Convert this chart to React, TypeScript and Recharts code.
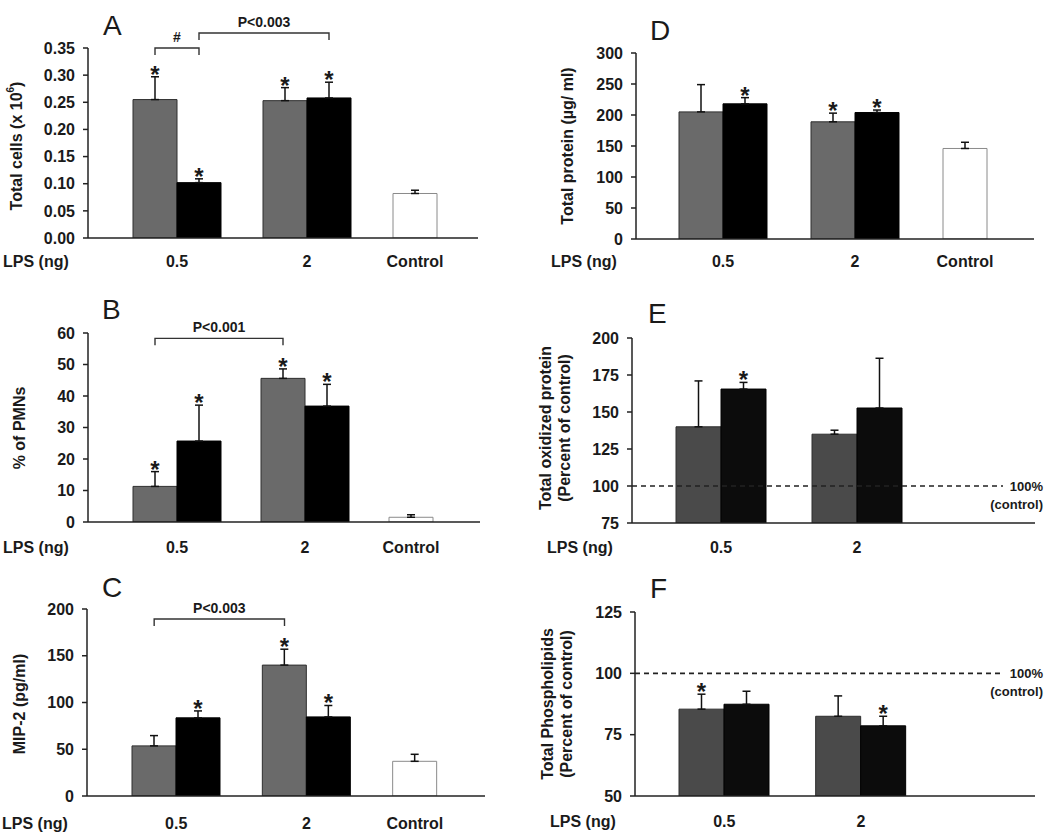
import React from 'react';
import { ComposedChart, Bar, XAxis, YAxis, ErrorBar, Cell, LabelList, ReferenceLine } from 'recharts';

const FONT = '"Liberation Sans", Arial, Helvetica, sans-serif';
const INK = '#1a1a1a';

const doses = ['0.5', '2'];

// A - total cells (x 10^6)
const cellsGray = [0.255, 0.253];
const cellsGrayErr = [0.042, 0.024];
const cellsBlack = [0.102, 0.258];
const cellsBlackErr = [0.007, 0.029];
const cellsControl = [0.082, 0.006];
const cellsGrayStar = [true, true];
const cellsBlackStar = [true, true];
const cellsTicks = [0, 0.05, 0.1, 0.15, 0.2, 0.25, 0.3, 0.35];

// B - % of PMNs
const pmnGray = [11.3, 45.6];
const pmnGrayErr = [4.7, 3.0];
const pmnBlack = [25.7, 36.8];
const pmnBlackErr = [11.4, 6.9];
const pmnControl = [1.5, 0.8];
const pmnGrayStar = [true, true];
const pmnBlackStar = [true, true];
const pmnTicks = [0, 10, 20, 30, 40, 50, 60];

// C - MIP-2
const mipGray = [53.6, 140];
const mipGrayErr = [11, 17];
const mipBlack = [83.6, 84.6];
const mipBlackErr = [7.4, 12.2];
const mipControl = [37.1, 7.5];
const mipGrayStar = [false, true];
const mipBlackStar = [true, true];
const mipTicks = [0, 50, 100, 150, 200];

// D - total protein
const protGray = [205, 189];
const protGrayErr = [44, 14];
const protBlack = [218, 204];
const protBlackErr = [10, 4];
const protControl = [146, 10];
const protGrayStar = [false, true];
const protBlackStar = [true, true];
const protTicks = [0, 50, 100, 150, 200, 250, 300];

// E - total oxidized protein (% of control)
const oxGray = [140, 135];
const oxGrayErr = [31, 2.7];
const oxBlack = [165.5, 152.7];
const oxBlackErr = [4.5, 33.6];
const oxGrayStar = [false, false];
const oxBlackStar = [true, false];
const oxTicks = [75, 100, 125, 150, 175, 200];

// F - total phospholipids (% of control)
const plGray = [85.4, 82.5];
const plGrayErr = [6.1, 8.3];
const plBlack = [87.4, 78.6];
const plBlackErr = [5.3, 3.9];
const plGrayStar = [true, false];
const plBlackStar = [false, true];
const plTicks = [50, 75, 100, 125];

type Row = {
  dose: string;
  left: number | null;
  leftErr: number[] | null;
  right: number | null;
  rightErr: number[] | null;
  leftStar: string;
  rightStar: string;
  control: boolean;
};

function buildRows(
  gray: number[], grayErr: number[], black: number[], blackErr: number[],
  grayStar: boolean[], blackStar: boolean[], control?: number[],
): Row[] {
  const rows: Row[] = doses.map((dose, i) => ({
    dose,
    left: gray[i],
    leftErr: [0, grayErr[i]],
    right: black[i],
    rightErr: [0, blackErr[i]],
    leftStar: grayStar[i] ? '*' : '',
    rightStar: blackStar[i] ? '*' : '',
    control: false,
  }));
  rows.push({
    dose: control ? 'Control' : '',
    left: control ? control[0] : null,
    leftErr: control ? [0, control[1]] : null,
    right: null,
    rightErr: null,
    leftStar: '',
    rightStar: '',
    control: true,
  });
  return rows;
}

type Bracket = { from: string; fromSide: 'L' | 'R'; to: string; toSide: 'L' | 'R'; y: number; label: string };

type PanelCfg = {
  letter: string;
  title: string[];
  left: number; top: number; width: number; height: number;
  axisX: number; plotTop: number; plotBottom: number; axisRight: number;
  padL: number; padR: number; barSize: number; tickBase: number;
  domain: [number, number]; ticks: number[]; fmt?: (v: number) => string;
  rows: Row[];
  grayFill: string; blackFill: string;
  brackets?: Bracket[];
  controlLine?: boolean;
  letterX: number; letterY: number;
  titleX: number[]; titleY: number;
};

const panels: PanelCfg[] = [
  {
    letter: 'A', title: ['Total cells (x 10^6)'],
    left: 0, top: 0, width: 520, height: 280,
    axisX: 88, plotTop: 48, plotBottom: 238, axisRight: 478,
    padL: 24, padR: -24, barSize: 44, tickBase: 29,
    domain: [0, 0.35], ticks: cellsTicks, fmt: (v) => v.toFixed(2),
    rows: buildRows(cellsGray, cellsGrayErr, cellsBlack, cellsBlackErr, cellsGrayStar, cellsBlackStar, cellsControl),
    grayFill: '#6a6a6a', blackFill: '#000000',
    brackets: [
      { from: '0.5', fromSide: 'L', to: '0.5', toSide: 'R', y: 0.35, label: '#' },
      { from: '0.5', fromSide: 'R', to: '2', toSide: 'R', y: 0.3776, label: 'P<0.003' },
    ],
    letterX: 103, letterY: 35, titleX: [16], titleY: 146,
  },
  {
    letter: 'B', title: ['% of PMNs'],
    left: 0, top: 280, width: 520, height: 280,
    axisX: 88, plotTop: 333, plotBottom: 522, axisRight: 480,
    padL: 25, padR: -17, barSize: 44, tickBase: 31,
    domain: [0, 60], ticks: pmnTicks,
    rows: buildRows(pmnGray, pmnGrayErr, pmnBlack, pmnBlackErr, pmnGrayStar, pmnBlackStar, pmnControl),
    grayFill: '#6a6a6a', blackFill: '#000000',
    brackets: [{ from: '0.5', fromSide: 'L', to: '2', toSide: 'L', y: 58.3, label: 'P<0.001' }],
    letterX: 102, letterY: 319, titleX: [19], titleY: 428,
  },
  {
    letter: 'C', title: ['MIP-2 (pg/ml)'],
    left: 0, top: 560, width: 520, height: 277,
    axisX: 87, plotTop: 609, plotBottom: 796, axisRight: 485,
    padL: 24, padR: -17, barSize: 44, tickBase: 33,
    domain: [0, 200], ticks: mipTicks,
    rows: buildRows(mipGray, mipGrayErr, mipBlack, mipBlackErr, mipGrayStar, mipBlackStar, mipControl),
    grayFill: '#6a6a6a', blackFill: '#000000',
    brackets: [{ from: '0.5', fromSide: 'L', to: '2', toSide: 'L', y: 189.3, label: 'P<0.003' }],
    letterX: 102, letterY: 597, titleX: [19], titleY: 704,
  },
  {
    letter: 'D', title: ['Total protein (\u00b5g/ ml)'],
    left: 520, top: 0, width: 530, height: 280,
    axisX: 636, plotTop: 53, plotBottom: 239, axisRight: 1034,
    padL: 21, padR: -19, barSize: 44, tickBase: 28,
    domain: [0, 300], ticks: protTicks,
    rows: buildRows(protGray, protGrayErr, protBlack, protBlackErr, protGrayStar, protBlackStar, protControl),
    grayFill: '#6a6a6a', blackFill: '#000000',
    letterX: 650, letterY: 40, titleX: [567], titleY: 146,
  },
  {
    letter: 'E', title: ['Total oxidized protein', '(Percent of control)'],
    left: 520, top: 280, width: 530, height: 280,
    axisX: 632, plotTop: 338, plotBottom: 523, axisRight: 1035,
    padL: 21, padR: -26, barSize: 45, tickBase: 30,
    domain: [75, 200], ticks: oxTicks,
    rows: buildRows(oxGray, oxGrayErr, oxBlack, oxBlackErr, oxGrayStar, oxBlackStar),
    grayFill: '#4a4a4a', blackFill: '#0c0c0c',
    controlLine: true,
    letterX: 648, letterY: 323, titleX: [545, 564], titleY: 428,
  },
  {
    letter: 'F', title: ['Total Phospholipids', '(Percent of control)'],
    left: 520, top: 560, width: 530, height: 277,
    axisX: 635, plotTop: 612, plotBottom: 796, axisRight: 1035,
    padL: 21, padR: -31, barSize: 45, tickBase: 31,
    domain: [50, 125], ticks: plTicks,
    rows: buildRows(plGray, plGrayErr, plBlack, plBlackErr, plGrayStar, plBlackStar),
    grayFill: '#4a4a4a', blackFill: '#0c0c0c',
    controlLine: true,
    letterX: 650, letterY: 598, titleX: [547, 566], titleY: 704,
  },
];

const textStyle = { fontFamily: FONT, fontWeight: 'bold' as const, fill: INK };

function Panel({ cfg }: { cfg: PanelCfg }) {
  const { rows } = cfg;
  const half = cfg.barSize / 2;
  const pxPerUnit = (cfg.plotBottom - cfg.plotTop) / (cfg.domain[1] - cfg.domain[0]);

  const xTick = (props: any) => {
    const { x, y, payload } = props;
    const label = String(payload?.value ?? '');
    if (!label) return <g />;
    const shift = label === 'Control' ? -half : 0;
    return (
      <text x={x + shift} y={y} textAnchor="middle" fontSize={16} {...textStyle}>
        {label}
      </text>
    );
  };

  // asterisk sits just above the top of the error bar
  const star = (errKey: 'leftErr' | 'rightErr') => (props: any) => {
    const { index, value } = props;
    if (!value) return null;
    const vb = props.viewBox && props.viewBox.width != null ? props.viewBox : props;
    const row = rows[index];
    const err = row && row[errKey] ? row[errKey]![1] : 0;
    const top = vb.y - err * pxPerUnit;
    return (
      <text x={vb.x + vb.width / 2} y={top + 6} textAnchor="middle" fontSize={24} {...textStyle}>
        *
      </text>
    );
  };

  const bracketShape = (b: Bracket) => (p: any) => {
    const a = p.x1 + (b.fromSide === 'L' ? -half : half);
    const c = p.x2 + (b.toSide === 'L' ? -half : half);
    const y = p.y1;
    return (
      <g>
        <path d={`M${a},${y + 7}V${y}H${c}V${y + 7}`} fill="none" stroke="#333" strokeWidth={1.4} />
        <text x={(a + c) / 2} y={y - 6} textAnchor="middle" fontSize={14} {...textStyle}>
          {b.label}
        </text>
      </g>
    );
  };

  // dashed 100% (control) line, in the chart's own coordinates
  const controlShape = (p: any) => {
    const xs = cfg.axisX - cfg.left;
    const xe = cfg.axisRight - cfg.left;
    return (
      <g>
        <line x1={xs} x2={xe - 32} y1={p.y1} y2={p.y1} stroke="#222" strokeWidth={1.6} strokeDasharray="5 4" />
        <text x={xe + 8} y={p.y1 + 5} textAnchor="end" fontSize={13} {...textStyle}>100%</text>
        <text x={xe + 8} y={p.y1 + 23} textAnchor="end" fontSize={13} {...textStyle}>(control)</text>
      </g>
    );
  };

  const axisStroke = { stroke: '#222', strokeWidth: 1.5 };

  return (
    <div style={{ position: 'absolute', left: cfg.left, top: cfg.top }}>
      <ComposedChart
        width={cfg.width}
        height={cfg.height}
        data={rows}
        barGap={0}
        margin={{ top: cfg.plotTop - cfg.top, right: cfg.left + cfg.width - cfg.axisRight, bottom: 0, left: 0 }}
      >
        <XAxis
          dataKey="dose"
          height={cfg.top + cfg.height - cfg.plotBottom}
          padding={{ left: cfg.padL, right: cfg.padR }}
          tickLine={false}
          tickSize={0}
          tickMargin={cfg.tickBase}
          interval={0}
          axisLine={axisStroke}
          tick={xTick}
        />
        <YAxis
          width={cfg.axisX - cfg.left}
          domain={cfg.domain}
          ticks={cfg.ticks}
          interval={0}
          allowDataOverflow
          tickFormatter={cfg.fmt}
          tickSize={5}
          tickMargin={8}
          axisLine={axisStroke}
          tickLine={axisStroke}
          tick={{ fontSize: 16, fontFamily: FONT, fontWeight: 'bold', fill: INK }}
        />
        {cfg.controlLine && <ReferenceLine y={100} ifOverflow="visible" shape={controlShape} />}
        <Bar dataKey="left" barSize={cfg.barSize} isAnimationActive={false} strokeWidth={1}>
          {rows.map((r, i) => (
            <Cell key={i} fill={r.control ? '#ffffff' : cfg.grayFill} stroke={r.control ? '#8a8a8a' : '#2e2e2e'} />
          ))}
          <ErrorBar dataKey="leftErr" direction="y" width={4} stroke="#111" strokeWidth={1.5} />
          <LabelList dataKey="leftStar" content={star('leftErr')} />
        </Bar>
        <Bar dataKey="right" barSize={cfg.barSize} isAnimationActive={false} fill={cfg.blackFill} stroke="#000" strokeWidth={1}>
          <ErrorBar dataKey="rightErr" direction="y" width={4} stroke="#111" strokeWidth={1.5} />
          <LabelList dataKey="rightStar" content={star('rightErr')} />
        </Bar>
        {(cfg.brackets || []).map((b, i) => (
          <ReferenceLine
            key={i}
            ifOverflow="visible"
            segment={[{ x: b.from, y: b.y }, { x: b.to, y: b.y }]}
            shape={bracketShape(b)}
          />
        ))}
      </ComposedChart>
    </div>
  );
}

function Titles() {
  return (
    <svg width={1050} height={837} style={{ position: 'absolute', left: 0, top: 0, pointerEvents: 'none' }}>
      {panels.map((p) => (
        <g key={p.letter}>
          <text x={p.letterX} y={p.letterY} fontSize={28} fontFamily={FONT} fill={INK}>
            {p.letter}
          </text>
          <text x={p.axisX - 85} y={p.plotBottom + p.tickBase} fontSize={16} {...textStyle}>
            LPS (ng)
          </text>
          {p.title.map((line, i) => {
            const cx = p.titleX[i];
            const parts = line.split('^');
            return (
              <text
                key={i}
                x={cx}
                y={p.titleY}
                transform={`rotate(-90 ${cx} ${p.titleY})`}
                textAnchor="middle"
                dominantBaseline="central"
                fontSize={16}
                {...textStyle}
              >
                {parts.length === 1 ? (
                  line
                ) : (
                  <>
                    <tspan>{parts[0]}</tspan>
                    <tspan fontSize={10} dy={-6}>{parts[1].replace(')', '')}</tspan>
                    <tspan dy={6}>)</tspan>
                  </>
                )}
              </text>
            );
          })}
        </g>
      ))}
    </svg>
  );
}

export default function App() {
  return (
    <div style={{ position: 'absolute', left: 0, top: 0, width: 1050, height: 837, background: '#fff' }}>
      {panels.map((p) => (
        <Panel key={p.letter} cfg={p} />
      ))}
      <Titles />
    </div>
  );
}
